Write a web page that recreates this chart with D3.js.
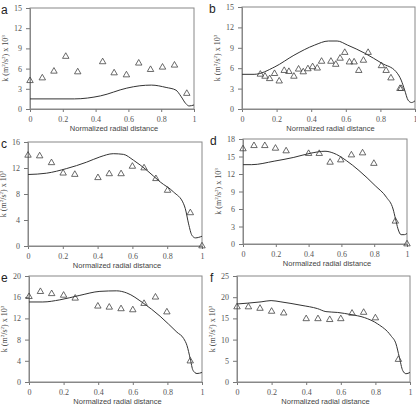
<!DOCTYPE html>
<html>
<head>
<script src="https://d3js.org/d3.v7.min.js"></script>
<style>
  body { margin: 0; background: #fff; }
  svg { display: block; }
  .tick text { font-family: "Liberation Serif", "DejaVu Serif", serif; font-size: 8px; fill: #555; }
  .tick line { stroke: #777; }
  .domain { stroke: #888; }
</style>
</head>
<body>
<svg width="416" height="411"></svg>
<script>
// x ticks shared by all panels
const xTicks = [0, 0.2, 0.4, 0.6, 0.8, 1];

// panel a
const aYTicks = [0, 3, 6, 9, 12, 15];
const aObs = [[0,4.2],[0.075,4.6],[0.146,5.6],[0.218,7.8],[0.291,5.5],[0.443,7.0],[0.513,5.35],[0.588,5.05],[0.663,6.8],[0.735,5.85],[0.808,6.2],[0.881,6.5],[0.956,2.3]];
const aModel = [[0,1.5],[0.27,1.5],[0.43,1.95],[0.59,3.1],[0.67,3.45],[0.74,3.55],[0.83,3.2],[0.89,2.8],[0.92,1.9],[0.95,0.8],[0.97,0.45],[1,0.6]];

// panel b
const bYTicks = [0, 3, 6, 9, 12, 15];
const bObs = [[0.106,5.1],[0.133,4.8],[0.16,4.45],[0.188,5.2],[0.215,4.1],[0.244,5.65],[0.271,5.5],[0.30,4.8],[0.327,5.85],[0.354,5.45],[0.381,5.9],[0.408,6.2],[0.435,6.0],[0.46,7.0],[0.514,7.0],[0.542,6.55],[0.567,7.45],[0.594,8.3],[0.621,6.9],[0.648,6.9],[0.675,5.65],[0.702,7.15],[0.729,8.3],[0.806,6.35],[0.833,5.65],[0.861,4.55],[0.913,3.0],[0.92,3.0]];
const bModel = [[0,5.1],[0.07,5.1],[0.19,6.2],[0.30,7.9],[0.42,9.4],[0.50,10.0],[0.55,10.0],[0.61,9.4],[0.71,8.2],[0.81,6.7],[0.89,5.5],[0.92,4.25],[0.94,2.8],[0.96,1.3],[0.98,0.95],[1,1.2]];

// panel c
const cYTicks = [0, 4, 8, 12, 16];
const cObs = [[0,13.95],[0.067,13.85],[0.135,12.8],[0.202,11.2],[0.269,11.0],[0.402,10.5],[0.467,11.1],[0.535,11.1],[0.6,12.25],[0.667,12.0],[0.735,10.35],[0.802,8.55],[0.933,5.1],[1,0]];
const cModel = [[0,11.0],[0.106,11.2],[0.22,11.9],[0.337,12.9],[0.413,13.7],[0.49,14.2],[0.548,14.1],[0.606,13.2],[0.683,11.65],[0.76,9.85],[0.837,8.3],[0.894,6.5],[0.904,5.75],[0.923,3.4],[0.942,1.65],[0.962,1.25],[1,1.5]];

// panel d
const dYTicks = [0, 3, 6, 9, 12, 15, 18];
const dObs = [[0,16.3],[0.067,16.85],[0.133,16.85],[0.198,16.4],[0.263,15.95],[0.4,15.5],[0.465,15.5],[0.531,14.0],[0.596,14.4],[0.661,15.25],[0.729,15.6],[0.798,13.8],[0.929,3.9],[1,0]];
const dModel = [[0,13.6],[0.053,13.6],[0.19,14.2],[0.31,14.85],[0.41,15.55],[0.5,15.9],[0.55,15.6],[0.63,14.3],[0.707,12.6],[0.806,10.0],[0.875,8.0],[0.915,6.0],[0.93,4.3],[0.945,2.6],[0.964,1.6],[0.984,1.6],[1,1.8]];

// panel e
const eYTicks = [0, 4, 8, 12, 16, 20];
const eObs = [[0,16.1],[0.066,17.05],[0.131,16.65],[0.2,16.35],[0.267,15.8],[0.398,14.3],[0.464,14.1],[0.532,13.8],[0.6,13.6],[0.665,14.8],[0.731,16.0],[0.797,13.2],[0.932,3.95]];
const eModel = [[0,15.1],[0.08,15.1],[0.178,15.5],[0.294,16.35],[0.41,17.1],[0.507,17.2],[0.565,16.8],[0.66,14.9],[0.758,12.4],[0.855,9.4],[0.894,8.2],[0.913,6.9],[0.932,4.4],[0.948,2.2],[0.971,1.6],[1,1.8]];

// panel f
const fYTicks = [0, 5, 10, 15, 20, 25];
const fObs = [[0,17.7],[0.066,17.7],[0.133,17.35],[0.2,16.65],[0.27,16.25],[0.4,14.9],[0.468,14.9],[0.536,14.7],[0.6,14.9],[0.665,16.2],[0.732,16.4],[0.8,15.1],[0.933,5.3]];
const fModel = [[0,18.4],[0.062,18.6],[0.139,18.9],[0.197,19.2],[0.254,18.9],[0.37,18.1],[0.466,17.3],[0.514,16.6],[0.582,16.4],[0.659,15.9],[0.736,15.2],[0.813,13.7],[0.89,10.9],[0.919,9.0],[0.938,5.9],[0.958,2.7],[0.977,1.95],[1,2.25]];

const xTitle = "Normalized radial distance";

// layout of each panel (plot box in pixels)
const panels = [
  { id: "a", yTicks: aYTicks, obs: aObs, model: aModel, l: 30,  r: 194, t: 8,   b: 109, lx: 1 },
  { id: "b", yTicks: bYTicks, obs: bObs, model: bModel, l: 242, r: 415, t: 7,   b: 109, lx: 209 },
  { id: "c", yTicks: cYTicks, obs: cObs, model: cModel, l: 28,  r: 202, t: 142, b: 246, lx: 1 },
  { id: "d", yTicks: dYTicks, obs: dObs, model: dModel, l: 243, r: 407, t: 139, b: 244, lx: 210 },
  { id: "e", yTicks: eYTicks, obs: eObs, model: eModel, l: 29,  r: 202, t: 276, b: 382, lx: 1 },
  { id: "f", yTicks: fYTicks, obs: fObs, model: fModel, l: 237, r: 410, t: 276, b: 382, lx: 210 }
];

const svg = d3.select("svg");
const tri = d3.symbol().type(d3.symbolTriangle).size(18);

panels.forEach(p => {
  const x = d3.scaleLinear().domain([0, 1]).range([p.l, p.r]);
  const yMax = d3.max(p.yTicks);
  const y = d3.scaleLinear().domain([0, yMax]).range([p.b, p.t]);
  const g = svg.append("g");

  // box
  g.append("rect")
    .attr("x", p.l).attr("y", p.t)
    .attr("width", p.r - p.l).attr("height", p.b - p.t)
    .attr("fill", "none").attr("stroke", "#888").attr("stroke-width", 1);

  // axes
  g.append("g")
    .attr("transform", `translate(0,${p.b})`)
    .call(d3.axisBottom(x).tickValues(xTicks).tickSize(3).tickPadding(4)
      .tickFormat(d => d === 0 ? "0" : d === 1 ? "1" : d3.format(".1f")(d)));
  g.append("g")
    .attr("transform", `translate(${p.l},0)`)
    .call(d3.axisLeft(y).tickValues(p.yTicks).tickSize(4).tickPadding(4));

  // model line
  const line = d3.line().x(d => x(d[0])).y(d => y(d[1])).curve(d3.curveMonotoneX);
  g.append("path")
    .datum(p.model)
    .attr("d", line)
    .attr("fill", "none")
    .attr("stroke", "#333")
    .attr("stroke-width", 1);

  // measured points
  g.selectAll(".pt")
    .data(p.obs)
    .join("path")
    .attr("class", "pt")
    .attr("d", tri)
    .attr("transform", d => `translate(${x(d[0])},${y(d[1])})`)
    .attr("fill", "none")
    .attr("stroke", "#444")
    .attr("stroke-width", 0.8);

  // titles
  g.append("text")
    .attr("x", (p.l + p.r) / 2 + 2)
    .attr("y", p.b + 22)
    .attr("text-anchor", "middle")
    .style("font-family", "Liberation Sans, Arial, sans-serif")
    .style("font-size", "7.5px")
    .style("fill", "#444")
    .text(xTitle);

  const yt = g.append("text")
    .attr("transform", `translate(${p.l - 22},${(p.t + p.b) / 2}) rotate(-90)`)
    .attr("text-anchor", "middle")
    .style("font-family", "Liberation Serif, serif")
    .style("font-size", "8px")
    .style("fill", "#444");
  yt.append("tspan").text("k (m");
  yt.append("tspan").attr("dy", -3).style("font-size", "5px").text("2");
  yt.append("tspan").attr("dy", 3).text("/s");
  yt.append("tspan").attr("dy", -3).style("font-size", "5px").text("2");
  yt.append("tspan").attr("dy", 3).text(") x 10");
  yt.append("tspan").attr("dy", -3).style("font-size", "5px").text("3");

  g.append("text")
    .attr("x", p.lx)
    .attr("y", p.t + 6)
    .style("font-family", "Liberation Sans, Arial, sans-serif")
    .style("font-size", "12px")
    .style("fill", "#222")
    .text(p.id);
});
</script>
</body>
</html>
